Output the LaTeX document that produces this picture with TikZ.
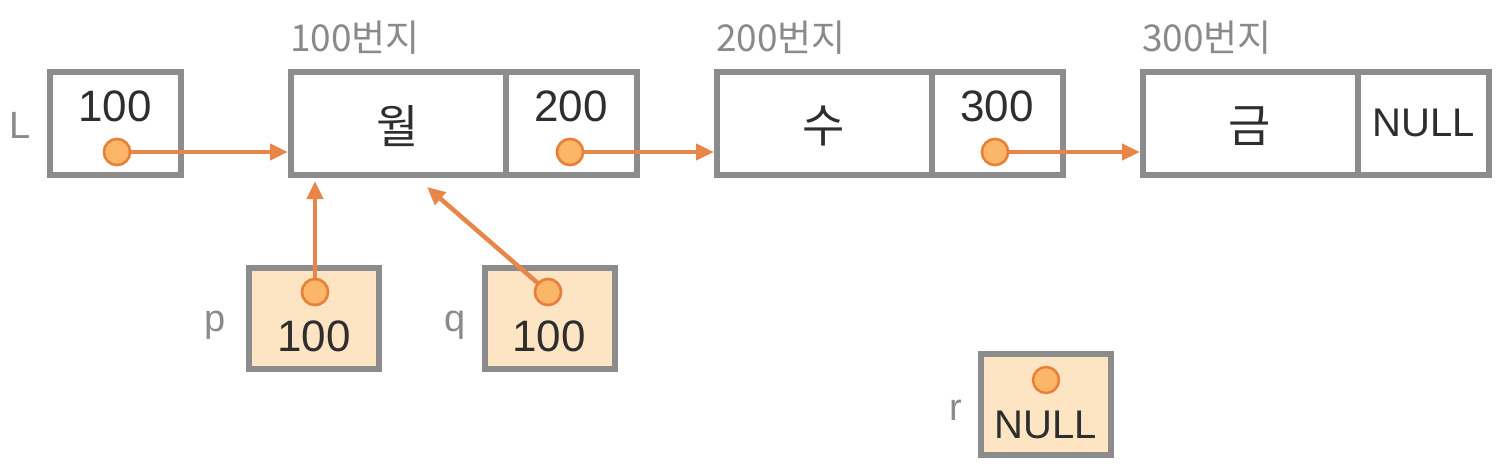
\documentclass[tikz,border=0pt]{standalone}
\usepackage{fontspec}
\setmainfont{Liberation Sans}
\newfontfamily\kr{Noto Sans CJK KR}
\usetikzlibrary{arrows.meta}
\definecolor{boxgray}{HTML}{8C8C8C}
\definecolor{labgray}{HTML}{8A8A8A}
\definecolor{txt}{HTML}{2E2E2E}
\definecolor{arr}{HTML}{E8864A}
\definecolor{dotfill}{HTML}{FBB767}
\definecolor{dotline}{HTML}{E8803A}
\definecolor{ptrfill}{HTML}{FDE4C2}
\tikzset{
  cell/.style={draw=boxgray, line width=6pt, rectangle, inner sep=0pt, outer sep=0pt},
  ptrbox/.style={cell, fill=ptrfill},
  val/.style={font=\fontsize{44}{44}\selectfont, text=txt, inner sep=0pt},
  krval/.style={font=\kr\fontsize{46}{46}\selectfont, text=txt, inner sep=0pt},
  addr/.style={font=\kr\fontsize{37}{37}\selectfont, text=labgray, inner sep=0pt, anchor=base west},
  vname/.style={font=\fontsize{38}{38}\selectfont, text=labgray, inner sep=0pt},
  pdot/.style={circle, draw=dotline, fill=dotfill, line width=2.5pt, minimum size=26pt, inner sep=0pt},
  link/.style={draw=arr, line width=4.5pt, -{Triangle[length=18pt,width=16pt]}},
}
\begin{document}
\begin{tikzpicture}[x=1pt,y=-1pt]
\useasboundingbox (0,0) rectangle (1502,471);
% L
\node[cell, minimum width=131pt, minimum height=103pt] (Lb) at (115.5,123.5) {};
\node[vname] (Ln) at (20,125) {L};
\node[val] (Lv) at (115,106) {100};
% node 1
\node[cell, minimum width=215pt, minimum height=103pt] (n1d) at (398.5,123.5) {};
\node[cell, minimum width=131pt, minimum height=103pt] (n1p) at (571.5,123.5) {};
\node[krval] (n1t) at (398,126) {월};
\node[val] (n1v) at (571,106) {200};
\node[addr] (a1) at (290,51) {100번지};
% node 2
\node[cell, minimum width=215pt, minimum height=103pt] (n2d) at (824.5,123.5) {};
\node[cell, minimum width=131pt, minimum height=103pt] (n2p) at (997.5,123.5) {};
\node[krval] (n2t) at (824,126) {수};
\node[val] (n2v) at (997,106) {300};
\node[addr] (a2) at (716,51) {200번지};
% node 3
\node[cell, minimum width=215pt, minimum height=103pt] (n3d) at (1250.5,123.5) {};
\node[cell, minimum width=131pt, minimum height=103pt] (n3p) at (1423.5,123.5) {};
\node[krval] (n3t) at (1250,126) {금};
\node[val, font=\fontsize{40}{40}\selectfont] (n3v) at (1424,123) {NULL};
\node[addr] (a3) at (1142,51) {300번지};
% p, q, r
\node[ptrbox, minimum width=130pt, minimum height=101pt] (pb) at (314,318.5) {};
\node[vname] (pn) at (215,325) {p};
\node[val] (pv) at (314,336) {100};
\node[ptrbox, minimum width=130pt, minimum height=101pt] (qb) at (549.5,318.5) {};
\node[vname] (qn) at (455,325) {q};
\node[val] (qv) at (549,336) {100};
\node[ptrbox, minimum width=130pt, minimum height=101pt] (rb) at (1046,404.5) {};
\node[vname] (rn) at (956,410) {r};
\node[val, font=\fontsize{40}{40}\selectfont] (rv) at (1046,425) {NULL};
% pointer dots
\coordinate (qt) at (427,187);
\node[pdot] (dL) at (117,152) {};
\node[pdot] (d1) at (570,152) {};
\node[pdot] (d2) at (995,152) {};
\node[pdot] (dp) at (315,292) {};
\node[pdot] (dq) at (548,292) {};
\node[pdot] (dr) at (1046,380) {};
% links
\draw[link, shorten >=3pt] (dL.center) -- (n1d.west |- dL);
\draw[link, shorten >=3pt] (d1.center) -- (n2d.west |- d1);
\draw[link, shorten >=3pt] (d2.center) -- (n3d.west |- d2);
\draw[link, shorten >=6pt] (dp.center) -- (dp |- n1d.south);
\draw[link] (dq.center) -- (qt);
% dots again on top of the links
\node[pdot] (dL2) at (dL) {};
\node[pdot] (d12) at (d1) {};
\node[pdot] (d22) at (d2) {};
\node[pdot] (dp2) at (dp) {};
\node[pdot] (dq2) at (dq) {};
\end{tikzpicture}
\end{document}
